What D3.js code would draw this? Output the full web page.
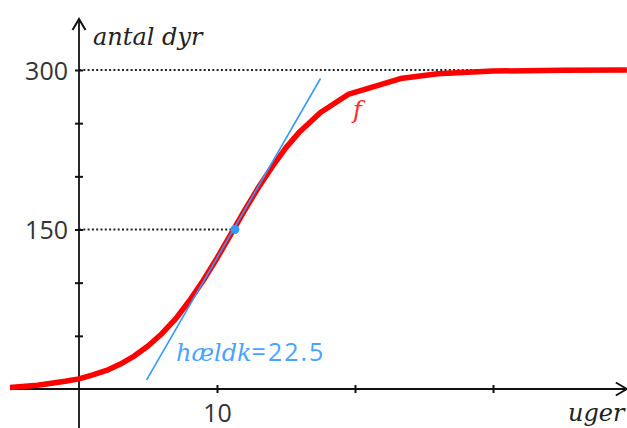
<!DOCTYPE html>
<html>
<head>
<meta charset="utf-8">
<script src="https://cdn.jsdelivr.net/npm/d3@7"></script>
<style>
    html, body { margin: 0; padding: 0; background: #fff; }
    .num { font-family: "Open Sans", sans-serif; font-size: 25px; fill: #333; }
    .ital { font-family: "DejaVu Serif", serif; font-style: italic; font-size: 24px; }
</style>
</head>
<body>
<div id="viewportContainer"></div>
<script>
/* --- ビューポート --- */
const viewport = {width: 627, height: 428};

/* --- データセット --- */
const weeks  = [-5, -3, -1, 0, 1, 2, 3, 4, 5, 6, 7, 8, 9, 10, 11, 12, 13, 14, 15, 16, 17.5, 19.5, 23.3, 26, 30, 35, 39.7];
const animals = [1.5, 3.5, 7.3, 9.5, 13.3, 17.5, 23.5, 31, 40.5, 52, 66, 83, 102, 123, 145.5, 168, 189.5, 209, 227, 242, 260, 277, 292, 296.5, 299, 299.8, 300];

const tangentWeeks = [4.9, 17.5];
const tangentAnimals = [8.5, 292];
const pointWeek = 11.3;
const pointAnimals = 150;
const slopeLabel = "22.5";

const xTicks = [10, 20, 30];
const xTickLabels = ["10", "", ""];
const yTicks = [50, 100, 150, 200, 250, 300];
const yTickLabels = ["", "", "150", "", "", "300"];

const xAxisExtent = [-5, 39.7];
const yAxisExtent = [-37, 348];

/*--- スケール ---*/
const xScale = d3.scaleLinear().domain([0, 10]).range([79, 217]);
const yScale = d3.scaleLinear().domain([0, 300]).range([389, 70]);

const svg = d3.select("#viewportContainer").append("svg")
    .attr("width", viewport.width)
    .attr("height", viewport.height);

/*--- 点線 ---*/
svg.append("line")
    .attr("x1", xScale(0)).attr("x2", viewport.width)
    .attr("y1", yScale(300)).attr("y2", yScale(300))
    .attr("stroke", "#222").attr("stroke-width", 2)
    .attr("stroke-dasharray", "2 2.3");
svg.append("line")
    .attr("x1", xScale(0)).attr("x2", xScale(pointWeek))
    .attr("y1", yScale(pointAnimals)).attr("y2", yScale(pointAnimals))
    .attr("stroke", "#222").attr("stroke-width", 2)
    .attr("stroke-dasharray", "2 2.3");

/*--- 軸 ---*/
const axisColor = "#111";
svg.append("line")
    .attr("x1", xScale(xAxisExtent[0])).attr("x2", xScale(xAxisExtent[1]))
    .attr("y1", yScale(0)).attr("y2", yScale(0))
    .attr("stroke", axisColor).attr("stroke-width", 1.8);
svg.append("line")
    .attr("x1", xScale(0)).attr("x2", xScale(0))
    .attr("y1", yScale(yAxisExtent[0])).attr("y2", yScale(yAxisExtent[1]))
    .attr("stroke", axisColor).attr("stroke-width", 1.8);

// arrow heads
const xTip = [xScale(xAxisExtent[1]), yScale(0)];
const yTip = [xScale(0), yScale(yAxisExtent[1])];
svg.append("path")
    .attr("d", `M${xTip[0] - 11},${xTip[1] - 6.5}L${xTip[0]},${xTip[1]}L${xTip[0] - 11},${xTip[1] + 6.5}`)
    .attr("fill", "none").attr("stroke", axisColor).attr("stroke-width", 2);
svg.append("path")
    .attr("d", `M${yTip[0] - 6.5},${yTip[1] + 11}L${yTip[0]},${yTip[1]}L${yTip[0] + 6.5},${yTip[1] + 11}`)
    .attr("fill", "none").attr("stroke", axisColor).attr("stroke-width", 2);

const xAxis = d3.axisBottom(xScale).tickValues(xTicks)
    .tickFormat((d, i) => xTickLabels[i]).tickSize(0);
const yAxis = d3.axisLeft(yScale).tickValues(yTicks)
    .tickFormat((d, i) => yTickLabels[i]).tickSize(0);

const xAxisContainer = svg.append("g")
    .attr("transform", "translate(0," + yScale(0) + ")")
    .call(xAxis);
const yAxisContainer = svg.append("g")
    .attr("transform", "translate(" + xScale(0) + ",0)")
    .call(yAxis);

[xAxisContainer, yAxisContainer].forEach(g => {
    g.select(".domain").remove();
    g.selectAll(".tick text").attr("class", "num").attr("font-family", null).attr("font-size", null);
});
xAxisContainer.selectAll(".tick line")
    .attr("y1", -4).attr("y2", 4).attr("stroke", axisColor).attr("stroke-width", 2);
xAxisContainer.selectAll(".tick text").attr("y", 33).attr("dy", null);
yAxisContainer.selectAll(".tick line")
    .attr("x1", -4).attr("x2", 4).attr("stroke", axisColor).attr("stroke-width", 2);
yAxisContainer.selectAll(".tick text").attr("x", -11).attr("dy", "0.36em");

/*--- 軸ラベル ---*/
svg.append("text").attr("class", "ital")
    .attr("x", 93).attr("y", 45).attr("fill", "#222")
    .text("antal dyr");
svg.append("text").attr("class", "ital")
    .attr("x", 568).attr("y", 421).attr("fill", "#222")
    .text("uger");

/*--- 曲線 ---*/
const line = d3.line()
    .x(d => xScale(d[0]))
    .y(d => yScale(d[1]));

svg.append("path")
    .datum(d3.zip(weeks, animals))
    .attr("d", line)
    .attr("fill", "none")
    .attr("stroke", "#ff0000")
    .attr("stroke-width", 5.5)
    .attr("stroke-linejoin", "round");

svg.append("text").attr("class", "ital")
    .attr("x", 353).attr("y", 118).attr("fill", "#ff2a2a")
    .text("f");

/*--- 接線 ---*/
svg.append("path")
    .datum(d3.zip(tangentWeeks, tangentAnimals))
    .attr("d", line)
    .attr("fill", "none")
    .attr("stroke", "#3399ff")
    .attr("stroke-width", 1.6);

svg.append("circle")
    .attr("cx", xScale(pointWeek))
    .attr("cy", yScale(pointAnimals))
    .attr("r", 4.5)
    .attr("fill", "#3399ff");

const slopeText = svg.append("text")
    .attr("x", 176).attr("y", 361)
    .attr("fill", "#4aa3ff");
slopeText.append("tspan").attr("class", "ital").attr("font-size", "23px").text("hældk");
slopeText.append("tspan").attr("class", "num").style("fill", "#4aa3ff")
    .attr("letter-spacing", "2px").text("=" + slopeLabel);
</script>
</body>
</html>
